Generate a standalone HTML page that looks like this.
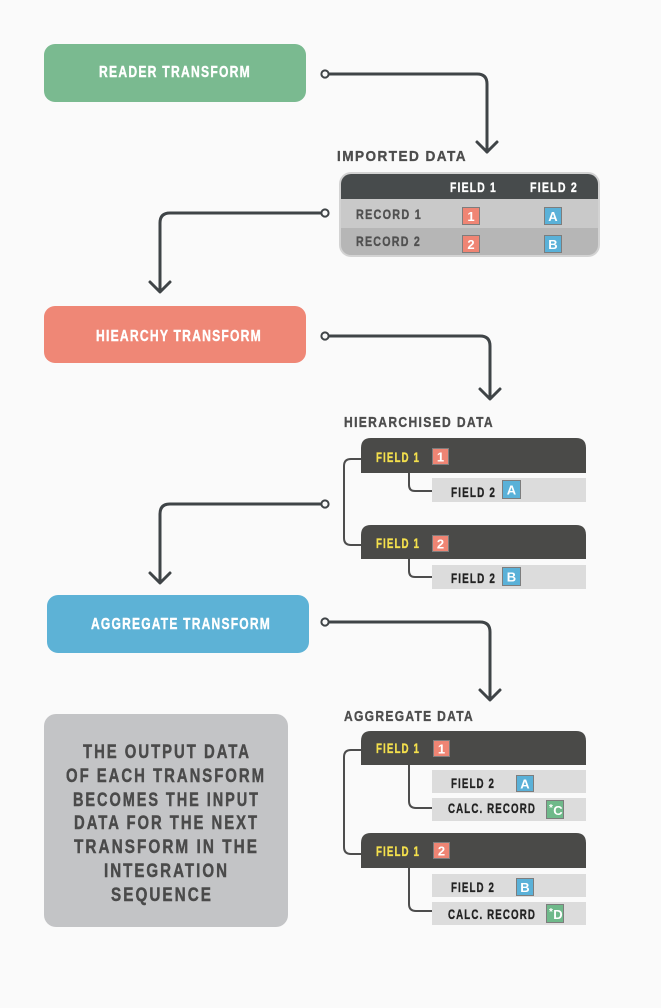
<!DOCTYPE html>
<html>
<head>
<meta charset="utf-8">
<style>
  html,body{margin:0;padding:0;background:#fafafa;}
  svg{display:block;}
  text{font-family:"Liberation Sans", sans-serif;font-weight:bold;}
  .ls{letter-spacing:1.6px;}
  .ls2{letter-spacing:2.6px;}
</style>
</head>
<body>
<svg width="661" height="1008" viewBox="0 0 661 1008" xmlns="http://www.w3.org/2000/svg">
  <rect x="0" y="0" width="661" height="1008" fill="#fafafa"/>
  <defs>
    <clipPath id="tbl"><rect x="341" y="174" width="257" height="81" rx="10" ry="10"/></clipPath>
  </defs>

  <!-- Main transform boxes -->
  <rect x="44" y="44" width="262" height="58" rx="11" fill="#7aba90"/>
  <text class="ls" x="175" y="77" font-size="15.5" fill="#ffffff" stroke="#ffffff" stroke-width="0.4" text-anchor="middle" textLength="152" lengthAdjust="spacingAndGlyphs">READER TRANSFORM</text>

  <rect x="44" y="306" width="262" height="57" rx="11" fill="#ef8776"/>
  <text class="ls" x="179" y="341" font-size="16" fill="#ffffff" stroke="#ffffff" stroke-width="0.4" text-anchor="middle" textLength="166" lengthAdjust="spacingAndGlyphs">HIEARCHY TRANSFORM</text>

  <rect x="47" y="595" width="262" height="58" rx="11" fill="#5db2d6"/>
  <text class="ls" x="181" y="629" font-size="16" fill="#ffffff" stroke="#ffffff" stroke-width="0.4" text-anchor="middle" textLength="180" lengthAdjust="spacingAndGlyphs">AGGREGATE TRANSFORM</text>

  <!-- Main connectors -->
  <g fill="none" stroke="#3f4447" stroke-width="3" stroke-linecap="round" stroke-linejoin="round">
    <path d="M329 74 H477 Q487 74 487 84 V152"/>
    <path d="M477 142 L487 152 L497 142"/>

    <path d="M321 213 H170 Q160 213 160 223 V291"/>
    <path d="M150 282 L160 292 L170 282"/>

    <path d="M329 336 H480 Q490 336 490 346 V398"/>
    <path d="M480 389 L490 399 L500 389"/>

    <path d="M321 504 H170 Q160 504 160 514 V582"/>
    <path d="M150 573 L160 583 L170 573"/>

    <path d="M329 622 H480 Q490 622 490 632 V699"/>
    <path d="M480 690 L490 700 L500 690"/>
  </g>
  <g fill="#fafafa" stroke="#3f4447" stroke-width="2">
    <circle cx="325" cy="74" r="3.6"/>
    <circle cx="325" cy="213" r="3.6"/>
    <circle cx="325" cy="336" r="3.6"/>
    <circle cx="325" cy="504" r="3.6"/>
    <circle cx="325" cy="622" r="3.6"/>
  </g>

  <!-- Labels -->
  <g fill="#4d4d4d" stroke="#4d4d4d" stroke-width="0.35">
    <text class="ls" x="337" y="161" font-size="15" textLength="130" lengthAdjust="spacingAndGlyphs">IMPORTED DATA</text>
    <text class="ls" x="344" y="427" font-size="14.5" textLength="150" lengthAdjust="spacingAndGlyphs">HIERARCHISED DATA</text>
    <text class="ls" x="344" y="721" font-size="15" textLength="130" lengthAdjust="spacingAndGlyphs">AGGREGATE DATA</text>
  </g>

  <!-- Imported data table -->
  <rect x="339" y="172" width="261" height="85" rx="12" fill="#d3d3d3"/>
  <g clip-path="url(#tbl)">
    <rect x="341" y="174" width="257" height="25" fill="#474b4c"/>
    <rect x="341" y="199" width="257" height="29" fill="#c9c9c9"/>
    <rect x="341" y="228" width="257" height="27" fill="#b6b6b6"/>
  </g>
  <g fill="#ffffff" stroke="#ffffff" stroke-width="0.35">
    <text class="ls" x="450" y="192" font-size="14" textLength="47" lengthAdjust="spacingAndGlyphs">FIELD 1</text>
    <text class="ls" x="530" y="192" font-size="14" textLength="48" lengthAdjust="spacingAndGlyphs">FIELD 2</text>
  </g>
  <g fill="#505050" stroke="#505050" stroke-width="0.35">
    <text class="ls" x="356" y="219" font-size="14" textLength="66" lengthAdjust="spacingAndGlyphs">RECORD 1</text>
    <text class="ls" x="356" y="246" font-size="14" textLength="65" lengthAdjust="spacingAndGlyphs">RECORD 2</text>
  </g>

  <g stroke="#7d7d7d" stroke-width="1">
    <rect x="462.5" y="207.5" width="17" height="17" fill="#ef8574"/>
    <rect x="544.5" y="207.5" width="17" height="17" fill="#5ab1d8"/>
    <rect x="462.5" y="235.5" width="17" height="17" fill="#ef8574"/>
    <rect x="544.5" y="235.5" width="17" height="17" fill="#5ab1d8"/>
  </g>
  <g font-size="13" fill="#ffffff" text-anchor="middle">
    <text x="471" y="221">1</text>
    <text x="553" y="221">A</text>
    <text x="471" y="249">2</text>
    <text x="553" y="249">B</text>
  </g>

  <!-- Hierarchised data -->
  <g fill="none" stroke="#4d4d4d" stroke-width="2">
    <path d="M361 459 H351 Q344 459 344 466 V538 Q344 545 351 545 H361"/>
    <path d="M409 473 V485 Q409 491 415 491 H432"/>
    <path d="M409 559 V571 Q409 577 415 577 H432"/>
  </g>
  <path d="M361 473 V448 Q361 438 371 438 H576 Q586 438 586 448 V473 Z" fill="#4a4a48"/>
  <rect x="432" y="478" width="154" height="24" fill="#dcdcdc"/>
  <path d="M361 559 V535 Q361 525 371 525 H576 Q586 525 586 535 V559 Z" fill="#4a4a48"/>
  <rect x="432" y="565" width="154" height="24" fill="#dcdcdc"/>

  <g fill="#f4e04d" stroke="#f4e04d" stroke-width="0.35">
    <text class="ls" x="376" y="462" font-size="14" textLength="44" lengthAdjust="spacingAndGlyphs">FIELD 1</text>
    <text class="ls" x="376" y="548" font-size="14" textLength="44" lengthAdjust="spacingAndGlyphs">FIELD 1</text>
  </g>
  <g fill="#222222" stroke="#222222" stroke-width="0.35">
    <text class="ls" x="451" y="497" font-size="14" textLength="45" lengthAdjust="spacingAndGlyphs">FIELD 2</text>
    <text class="ls" x="451" y="583" font-size="14" textLength="45" lengthAdjust="spacingAndGlyphs">FIELD 2</text>
  </g>

  <g stroke="#7d7d7d" stroke-width="1">
    <rect x="432.5" y="448.5" width="16" height="16" fill="#ef8574"/>
    <rect x="502.5" y="480.5" width="18" height="18" fill="#5ab1d8"/>
    <rect x="432.5" y="535.5" width="16" height="16" fill="#ef8574"/>
    <rect x="502.5" y="567.5" width="18" height="18" fill="#5ab1d8"/>
  </g>
  <g font-size="13" fill="#ffffff" text-anchor="middle">
    <text x="440.5" y="461.5">1</text>
    <text x="511.5" y="494.5">A</text>
    <text x="440.5" y="548.5">2</text>
    <text x="511.5" y="581.5">B</text>
  </g>

  <!-- Aggregate data -->
  <g fill="none" stroke="#4d4d4d" stroke-width="2">
    <path d="M361 750 H351 Q344 750 344 757 V847 Q344 854 351 854 H361"/>
    <path d="M409 765 V801 Q409 808 416 808 H432"/>
    <path d="M409 868 V904 Q409 911 416 911 H432"/>
  </g>
  <path d="M361 765 V741 Q361 731 371 731 H576 Q586 731 586 741 V765 Z" fill="#4a4a48"/>
  <rect x="432" y="770" width="154" height="23" fill="#dcdcdc"/>
  <rect x="432" y="798" width="154" height="23" fill="#dcdcdc"/>
  <path d="M361 868 V843 Q361 833 371 833 H576 Q586 833 586 843 V868 Z" fill="#4a4a48"/>
  <rect x="432" y="874" width="154" height="23" fill="#dcdcdc"/>
  <rect x="432" y="902" width="154" height="23" fill="#dcdcdc"/>

  <g fill="#f4e04d" stroke="#f4e04d" stroke-width="0.35">
    <text class="ls" x="376" y="753" font-size="14" textLength="44" lengthAdjust="spacingAndGlyphs">FIELD 1</text>
    <text class="ls" x="376" y="856" font-size="14" textLength="44" lengthAdjust="spacingAndGlyphs">FIELD 1</text>
  </g>
  <g fill="#222222" stroke="#222222" stroke-width="0.35">
    <text class="ls" x="451" y="788" font-size="14" textLength="44" lengthAdjust="spacingAndGlyphs">FIELD 2</text>
    <text class="ls" x="448" y="813" font-size="14" textLength="88" lengthAdjust="spacingAndGlyphs">CALC. RECORD</text>
    <text class="ls" x="451" y="892" font-size="14" textLength="44" lengthAdjust="spacingAndGlyphs">FIELD 2</text>
    <text class="ls" x="448" y="919" font-size="14" textLength="88" lengthAdjust="spacingAndGlyphs">CALC. RECORD</text>
  </g>

  <g stroke="#7d7d7d" stroke-width="1">
    <rect x="433.5" y="740.5" width="16" height="16" fill="#ef8574"/>
    <rect x="516.5" y="775.5" width="17" height="16" fill="#5ab1d8"/>
    <rect x="546.5" y="800.5" width="17" height="18" fill="#6fb98a"/>
    <rect x="433.5" y="842.5" width="16" height="16" fill="#ef8574"/>
    <rect x="516.5" y="878.5" width="17" height="17" fill="#5ab1d8"/>
    <rect x="546.5" y="904.5" width="17" height="18" fill="#6fb98a"/>
  </g>
  <g font-size="13" fill="#ffffff" text-anchor="middle">
    <text x="441.5" y="753.5">1</text>
    <text x="525" y="788.5">A</text>
    <text x="441.5" y="855.5">2</text>
    <text x="525" y="892">B</text>
    <text x="558" y="815">C</text>
    <text x="558" y="919">D</text>
  </g>
  <g font-size="10" fill="#ffffff" text-anchor="middle">
    <text x="551" y="811">*</text>
    <text x="551" y="915">*</text>
  </g>

  <!-- Note box -->
  <rect x="44" y="714" width="244" height="213" rx="12" fill="#c3c4c6"/>
  <g font-size="19.5" fill="#4a4a4a" stroke="#4a4a4a" stroke-width="0.45" text-anchor="middle" class="ls2">
    <text x="167" y="758" textLength="168" lengthAdjust="spacingAndGlyphs">THE OUTPUT DATA</text>
    <text x="166" y="782" textLength="200" lengthAdjust="spacingAndGlyphs">OF EACH TRANSFORM</text>
    <text x="166.5" y="806" textLength="187" lengthAdjust="spacingAndGlyphs">BECOMES THE INPUT</text>
    <text x="166.5" y="829" textLength="185" lengthAdjust="spacingAndGlyphs">DATA FOR THE NEXT</text>
    <text x="166.5" y="853" textLength="185" lengthAdjust="spacingAndGlyphs">TRANSFORM IN THE</text>
    <text x="166.5" y="877" textLength="125" lengthAdjust="spacingAndGlyphs">INTEGRATION</text>
    <text x="162" y="901" textLength="102" lengthAdjust="spacingAndGlyphs">SEQUENCE</text>
  </g>
</svg>
</body>
</html>
